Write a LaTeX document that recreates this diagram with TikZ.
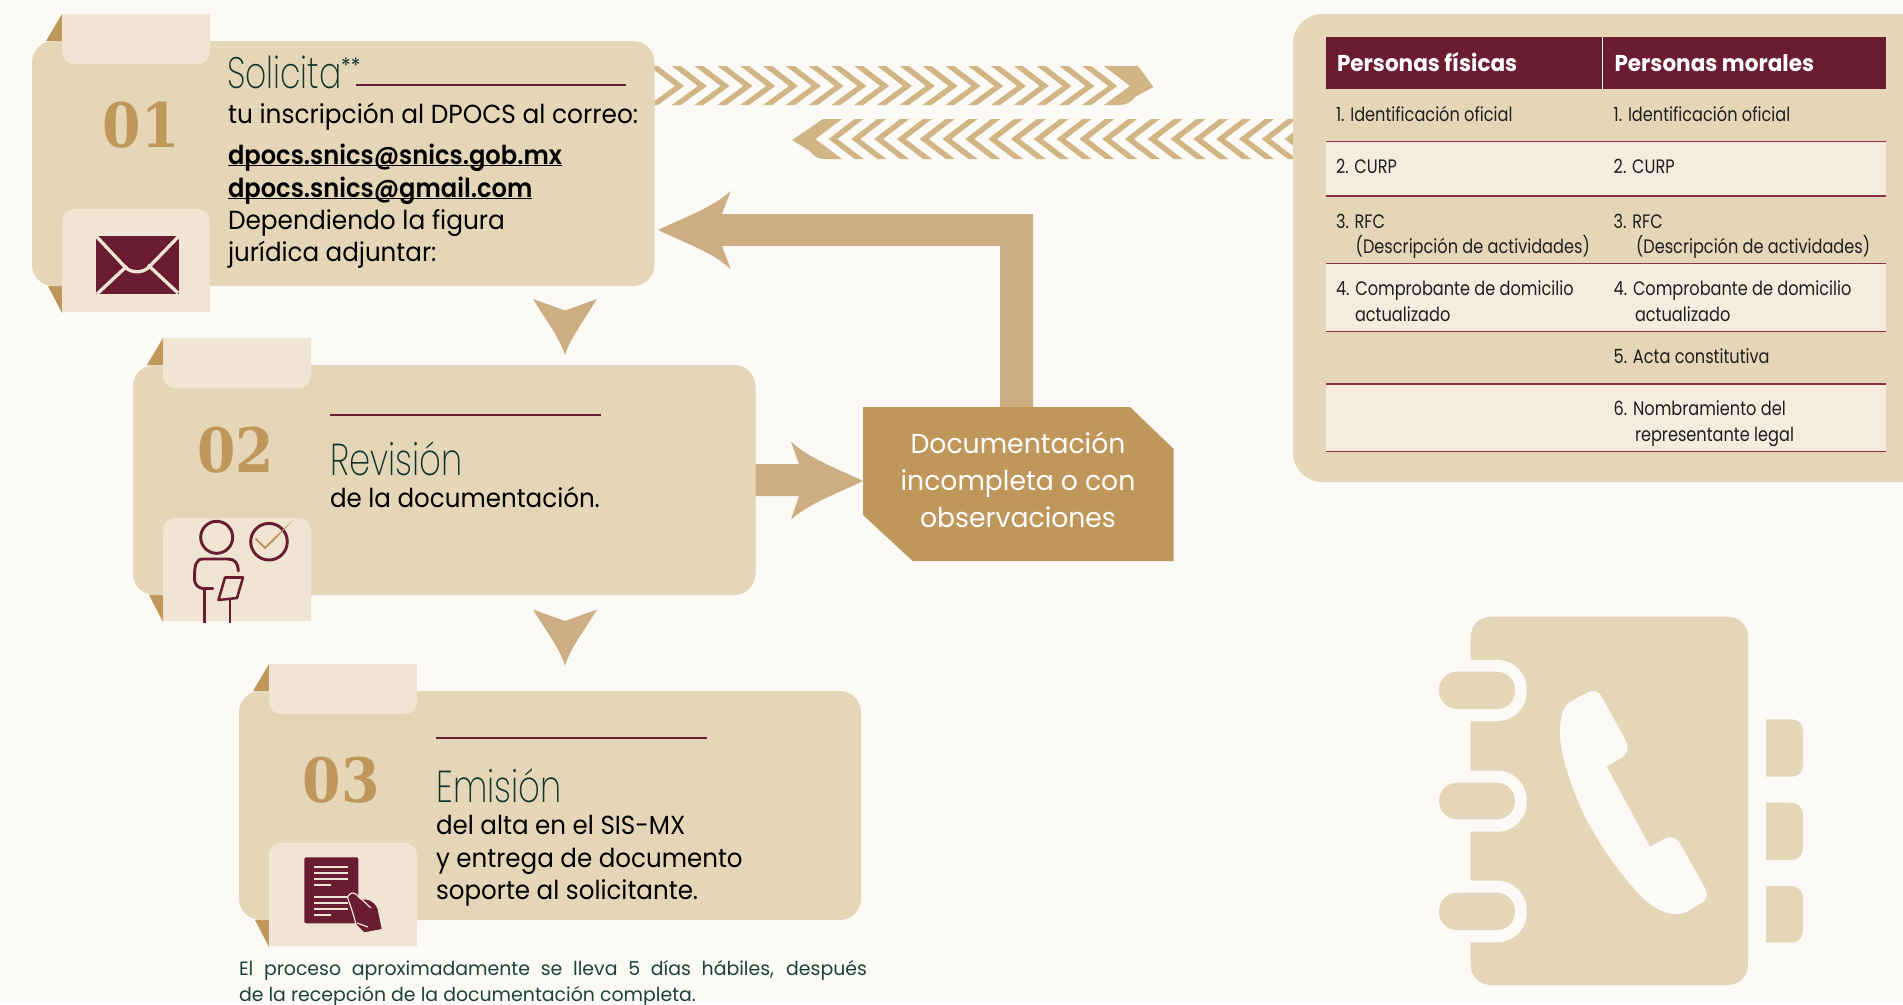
\documentclass[tikz,border=0pt]{standalone}
\usepackage{fontspec}
\setmainfont{Poppins}
\newfontfamily\bodyf{Poppins}[FakeStretch=0.94]
\newfontfamily\bodyw{Poppins}[FakeStretch=0.95]
\newfontfamily\mailf{Poppins SemiBold}[FakeStretch=0.925]
\newfontfamily\docf{Poppins}[FakeStretch=0.975]
\newfontfamily\footf{Poppins}[FakeStretch=0.985]
\newfontfamily\tablef{Poppins}[FakeStretch=0.83]
\newfontfamily\titlef{Poppins ExtraLight}[FakeStretch=0.75]
\newfontfamily\titleg{Poppins ExtraLight}[FakeStretch=0.76]
\newfontfamily\numf{DejaVu Serif}[FakeStretch=0.9]
\definecolor{bgc}{HTML}{FBFAF6}
\definecolor{cardc}{HTML}{E5D6B8}
\definecolor{tabc}{HTML}{F0E5D3}
\definecolor{rowc}{HTML}{F5ECDF}
\definecolor{wine}{HTML}{691C32}
\definecolor{gold}{HTML}{BF975B}
\definecolor{arrowc}{HTML}{CDAE83}
\definecolor{chevc}{HTML}{D2B585}
\definecolor{greenc}{HTML}{1F4A3F}
\definecolor{titlec}{HTML}{0E352C}
\definecolor{rulec}{HTML}{8A3049}
\newcommand{\mailul}[1]{\setbox0\hbox{#1}\rlap{\rule[-1.6pt]{\wd0}{0.9pt}}\box0}
\tikzset{
 lbl/.style={anchor=base west,inner sep=0pt,outer sep=0pt,text=black,font=\bodyf\fontsize{19.6}{24}\selectfont},
 lblw/.style={lbl,font=\bodyw\fontsize{19.6}{24}\selectfont},
 mailt/.style={lbl,font=\mailf\fontsize{19.6}{24}\selectfont},
 title/.style={lbl,text=titlec,font=\titlef\fontsize{33}{36}\selectfont},
 titleb/.style={lbl,text=titlec,font=\titleg\fontsize{33.5}{36}\selectfont},
 numb/.style={anchor=base,inner sep=0pt,text=gold,font=\numf\bfseries\fontsize{46}{50}\selectfont},
 cell/.style={lbl,font=\tablef\fontsize{14.6}{18}\selectfont,text={black!88}},
 head/.style={lbl,text=white,font=\bodyf\bfseries\fontsize{17.2}{20}\selectfont},
 doct/.style={anchor=base,inner sep=0pt,text=white,font=\docf\fontsize{20.5}{24}\selectfont},
 foot/.style={lbl,text={greenc!90!black},font=\footf\fontsize{14.4}{18}\selectfont},
 wineline/.style={wine,line width=2.2pt},
 rowline/.style={rulec,line width=1.1pt},
 ic/.style={wine,line width=2.2pt,line cap=round,line join=round},
}
\newcommand{\cardshape}[5]{% left right top bottom bottomtabtop
 \fill[gold] ({#1+30},{#3-27}) -- ({#1+14},#3) -- ({#1+30},#3) -- cycle;
 \fill[gold] ({#1+16},#4) -- ({#1+30},#4) -- ({#1+30},{#4+27}) -- cycle;
 \fill[cardc,rounded corners=16pt] (#1,#3) rectangle (#2,#4);
 \fill[tabc] ({#1+30},{#3-27}) -- ({#1+178},{#3-27}) [rounded corners=9pt] -- ({#1+178},{#3+23}) -- ({#1+30},{#3+23}) [sharp corners] -- cycle;
 \fill[tabc] ({#1+30},{#4+26}) -- ({#1+178},{#4+26}) [rounded corners=9pt] -- ({#1+178},#5) -- ({#1+30},#5) [sharp corners] -- cycle;
}
\newcommand{\downhead}[1]{%
 \fill[arrowc] (533,#1) .. controls (549,{#1+26}) and (559,{#1+38}) .. (565,{#1+56})
  .. controls (571,{#1+38}) and (581,{#1+26}) .. (597,#1) -- (565,{#1+11.5}) -- cycle;
}
\begin{document}
\begin{tikzpicture}[x=0.75pt,y=-0.75pt]
\clip (0,0) rectangle (1903,1004);
\fill[bgc] (0,0) rectangle (1903,1004);

% chevron bands
\foreach \k in {0,...,19}{
 \pgfmathsetmacro{\t}{684+22.8*\k}
 \fill[chevc] ({\t-35},66) -- ({\t-26},66) -- (\t,86) -- ({\t-26},105) -- ({\t-35},105) -- ({\t-9},86) -- cycle;
}
\fill[chevc] (1104,66) -- (1138,66) -- (1153.5,87) -- (1135,97) .. controls (1130,104) and (1124,105) .. (1118,105) -- (1104,105) -- (1130,86) -- cycle;
\foreach \k in {0,...,20}{
 \pgfmathsetmacro{\t}{828.5+22.8*\k}
 \fill[chevc] ({\t+35},119) -- ({\t+26},119) -- (\t,139) -- ({\t+26},159) -- ({\t+35},159) -- ({\t+9},139) -- cycle;
}
\fill[chevc] (842,119) -- (823,119) -- (792,140) -- (810,151) .. controls (815,158) and (820,159) .. (826,159) -- (842,159) -- (815.5,139) -- cycle;

% cards
\cardshape{32}{654.5}{41}{286}{209}
\cardshape{133}{755.5}{365}{595}{518}
\cardshape{239}{861}{691}{920}{843}

% big arrows
\fill[arrowc] (658,230) .. controls (685,217) and (712,208) .. (730.7,191) -- (722,214) -- (1033,214) -- (1033,408) -- (1000,408) -- (1000,246) -- (722,246) -- (730.7,269) .. controls (712,252) and (685,243) .. (658,230) -- cycle;
\fill[arrowc] (755.5,464) -- (799,464) -- (791,441.7) .. controls (810,459) and (836,468) .. (863,481) .. controls (836,494) and (810,503) .. (791,519.5) -- (799,496) -- (755.5,496) -- cycle;
\downhead{299}
\downhead{609.5}

% document box
\fill[gold] (863,407) -- (1130,407) -- (1173.7,449) -- (1173.7,561) -- (912.7,561) -- (863,515) -- cycle;
\node[doct] (d1) at (1018,453.5) {Documentación};
\node[doct] (d2) at (1018,490.5) {incompleta o con};
\node[doct] (d3) at (1018,527.5) {observaciones};

% step 1
\node[numb] (n1) at (141,147) {01};
\node[title] (t1) at (227,88) {Solicita};
\node[lbl,text=titlec,font=\bodyf\fontsize{16}{18}\selectfont] (t1s) at (341,73) {**};
\draw[wineline] (356,85) -- (626,85);
\node[lblw] (a1) at (228,123) {tu inscripción al DPOCS al correo:};
\node[mailt] (a2) at (228,164) {\mailul{dpocs.snics@snics.gob.mx}};
\node[mailt] (a3) at (228,197) {\mailul{dpocs.snics@gmail.com}};
\node[lblw] (a4) at (228,229.5) {Dependiendo la figura};
\node[lbl] (a5) at (228,261.5) {jurídica adjuntar:};
% envelope
\fill[wine] (96,236) rectangle (179,294);
\draw[tabc,line width=2.5pt] (96,236) -- (126,268) .. controls (132,273) and (142,273) .. (148,268) -- (179,236);
\draw[tabc,line width=2.5pt] (97,294) -- (127,266) (178,293) -- (148,265);

% step 2
\node[numb] (n2) at (235.5,472.6) {02};
\draw[wineline] (330.4,415) -- (601,415);
\node[titleb] (t2) at (330.5,475) {Revisión};
\node[lbl] (b1) at (330,507.5) {de la documentación.};
% person icon
\draw[ic] (216.7,537.3) circle (16);
\draw[ic] (269,541.7) circle (18.3);
\draw[gold,line width=1.5pt,line join=miter] (255.5,538.5) -- (265,548) -- (272,541);
\fill[gold] (271,540.5) -- (293,520) -- (272.5,542.5) -- cycle;
\draw[ic] (238.3,571) .. controls (238,563) and (235,559) .. (228,559) -- (203,559) .. controls (196,559) and (194.5,565) .. (194.5,578) .. controls (194.5,586) and (199,588) .. (203,588.5) -- (213,588.5);
\draw[ic,line cap=butt] (204.3,589) -- (204.3,622.5);
\draw[ic,line cap=butt,line width=1.9pt] (230,600) -- (230,622.5);
\draw[ic,line width=1.9pt] (225,577.5) -- (243,577.5) -- (237,598) -- (218.5,600) -- cycle;

% step 3
\node[numb] (n3) at (341,802) {03};
\draw[wineline] (436,738) -- (707,738);
\node[titleb] (t3) at (436.5,802) {Emisión};
\node[lbl] (c1) at (436,834.5) {del alta en el SIS-MX};
\node[lbl] (c2) at (436,867.5) {y entrega de documento};
\node[lbl] (c3) at (436,899) {soporte al solicitante.};
% document icon
\fill[wine,rounded corners=1.5pt] (304.3,857.3) rectangle (358.3,923.3);
\foreach \yy/\xe in {867.3/348.3,873.3/348.3,879.3/348.3,885.3/331,897.3/348.3,903.3/348.3,909.3/348.3,915.3/331}
  \draw[tabc,line width=1.5pt] (314.3,\yy) -- (\xe,\yy);
\fill[wine,draw=tabc,line width=0.9pt] (347.5,897) .. controls (350,892) and (354,892) .. (357,895) -- (361,899) .. controls (368,898) and (374,900) .. (378,908) -- (382.5,929.5) -- (364,933) -- (356,925) .. controls (354,915) and (350,905) .. (347.5,897) -- cycle;
\draw[tabc,line width=0.9pt] (358,896) -- (371,908) (357,923) -- (368,927);

% footnote
\node[foot] (f1) at (239,975) {\makebox[628\dimexpr0.75pt\relax][s]{El proceso aproximadamente se lleva 5 días hábiles, después}};
\node[foot] (f2) at (239,1001) {de la recepción de la documentación completa.};

% table panel
\fill[cardc,rounded corners=22pt] (1293,14) rectangle (1960,482);
\fill[rowc] (1326,141.7) rectangle (1886,196);
\fill[rowc] (1326,263.7) rectangle (1886,331.7);
\fill[rowc] (1326,384) rectangle (1886,451.7);
\fill[wine] (1326,37) rectangle (1886,89.3);
\draw[white,line width=0.8pt] (1602.7,37) -- (1602.7,89.3);
\foreach \yy in {141.7,196,263.7,331.7,384,451.7}
  \draw[rowline] (1326,\yy) -- (1886,\yy);
\node[head] (h1) at (1337,71) {Personas físicas};
\node[head] (h2) at (1614.5,71) {Personas morales};
\node[cell] (p1) at (1336,121) {1. Identificación oficial};
\node[cell] (m1) at (1613.7,121) {1. Identificación oficial};
\node[cell] (p2) at (1336,173) {2. CURP};
\node[cell] (m2) at (1613.7,173) {2. CURP};
\node[cell] (p3) at (1336,228) {3. RFC};
\node[cell] (m3) at (1613.7,228) {3. RFC};
\node[cell] (p3b) at (1355.7,253) {(Descripción de actividades)};
\node[cell] (m3b) at (1636,253) {(Descripción de actividades)};
\node[cell] (p4) at (1336,295) {4. Comprobante de domicilio};
\node[cell] (m4) at (1613.7,295) {4. Comprobante de domicilio};
\node[cell] (p4b) at (1355,321) {actualizado};
\node[cell] (m4b) at (1635,321) {actualizado};
\node[cell] (m5) at (1613.7,363) {5. Acta constitutiva};
\node[cell] (m6) at (1613.7,415) {6. Nombramiento del};
\node[cell] (m6b) at (1635,441) {representante legal};

% phone book
\fill[cardc,rounded corners=15pt] (1470.7,616.7) rectangle (1748,985);
\foreach \ya/\yb/\yc/\yd in {660/721/671.7/709,770.7/831.7/782.7/819.3,880.7/942.3/892.7/930}{
  \fill[bgc,rounded corners=22pt] (1430,\ya) rectangle (1526.7,\yb);
  \fill[cardc,rounded corners=13.5pt] (1439,\yc) rectangle (1515,\yd);
}
\foreach \ya/\yb in {719.3/776.7,802.7/860,886/942.7}
  \fill[cardc] (1766,\ya) -- (1790,\ya) .. controls (1799,\ya) and (1803,{\ya+5}) .. (1803,{\ya+13}) -- (1803,{\yb-13}) .. controls (1803,{\yb-5}) and (1799,\yb) .. (1790,\yb) -- (1766,\yb) -- cycle;
\fill[bgc] (1573.3,700) -- (1587,693) .. controls (1593,689.5) and (1598,690.5) .. (1601.7,696.7)
 -- (1626,741) .. controls (1629,747) and (1628,752) .. (1623.3,756.7)
 -- (1606.7,766.7) -- (1650,846.7) -- (1664,839) .. controls (1670,835.5) and (1676,837) .. (1680,843.3)
 -- (1705,888) .. controls (1708,894) and (1707,898) .. (1703.3,901.7)
 -- (1688,911) .. controls (1680,915.5) and (1672,915) .. (1662,911)
 .. controls (1652,906) and (1645,901) .. (1638,893)
 .. controls (1618,871) and (1600,845) .. (1586.7,820)
 .. controls (1572,790) and (1560,755) .. (1560,733)
 .. controls (1560,715) and (1563,705) .. (1573.3,700) -- cycle;
\end{tikzpicture}
\end{document}
